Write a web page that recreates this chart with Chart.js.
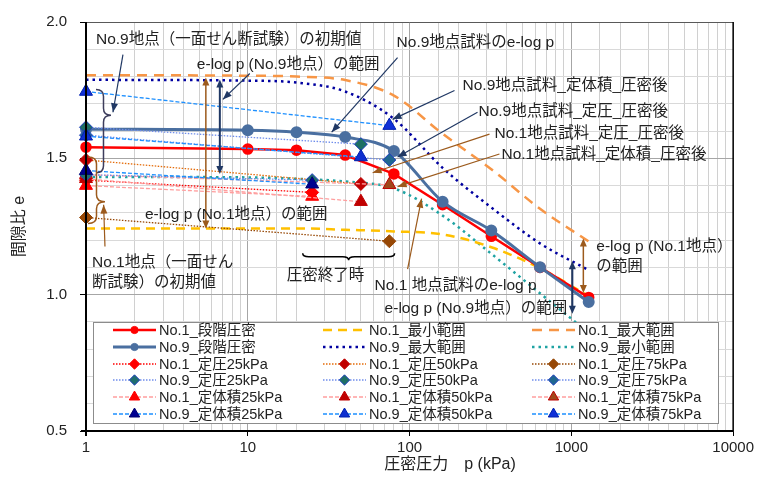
<!DOCTYPE html>
<html lang="ja">
<head>
<meta charset="utf-8">
<script src="https://cdn.jsdelivr.net/npm/chart.js@4.4.0/dist/chart.umd.min.js"></script>
<style>
  body { margin: 0; background: #fff; }
  #wrap { width: 757px; height: 478px; position: relative; }
</style>
</head>
<body>
<div id="wrap"><canvas id="chart"></canvas></div>
<script>
const FONT = '"Liberation Sans", Arial, "Noto Sans CJK JP", sans-serif';

// --- Data ---
const steps = [1, 10, 20, 40, 80, 160, 320, 640, 1280];       // kPa
const no1Step = [1.541, 1.534, 1.530, 1.512, 1.443, 1.330, 1.214, 1.100, 0.990];
const no9Step = [1.607, 1.603, 1.596, 1.578, 1.527, 1.341, 1.235, 1.101, 0.973];
const no1Min  = [1.243, 1.243, 1.243, 1.238, 1.232, 1.221, 1.174, 1.097, 0.995];
const no1Max  = [1.805, 1.803, 1.800, 1.787, 1.730, 1.590, 1.460, 1.315, 1.195];
const no9Max  = [1.788, 1.785, 1.778, 1.745, 1.645, 1.465, 1.320, 1.188, 1.090];
const no9Min  = [1.432, 1.430, 1.425, 1.415, 1.390, 1.290, 1.150, 1.005, 0.860];

// initial value (p=1) -> end of consolidation
const p25 = [1, 25], p50 = [1, 50], p75 = [1, 75];
const no1CP25 = [1.420, 1.375], no1CP50 = [1.494, 1.406], no1CP75 = [1.283, 1.196];
const no9CP25 = [1.440, 1.420], no9CP50 = [1.614, 1.552], no9CP75 = [1.585, 1.494];
const no1CV25 = [1.400, 1.360], no1CV50 = [1.425, 1.341], no1CV75 = [1.440, 1.403];
const no9CV25 = [1.455, 1.405], no9CV50 = [1.581, 1.505], no9CV75 = [1.745, 1.620];

const xTickLabels = [1, 10, 100, 1000, 10000];
const yTickLabels = [0.5, 1.0, 1.5, 2.0];

function ds(label, xs, ys, o) {
    return Object.assign({
        label: label,
        data: xs.map((x, i) => ({ x: x, y: ys[i] })),
        clip: false, fill: false, tension: 0,
        pointRadius: 0, pointHoverRadius: 0, borderWidth: 1.3
    }, o);
}
function cp(fill, border, line) {           // constant pressure: diamond + dotted
    return { borderColor: line, borderDash: [1.5, 1.5], pointStyle: 'rectRot', pointRadius: 6.5,
             pointBackgroundColor: fill, pointBorderColor: border, pointBorderWidth: 1 };
}
function cv(fill, border, line) {           // constant volume: triangle + dashed
    return { borderColor: line, borderDash: [4, 2], pointStyle: 'triangle', pointRadius: 7.5,
             pointBackgroundColor: fill, pointBorderColor: border, pointBorderWidth: 1 };
}

const datasets = [
    ds('No.9_定体積75kPa', p75, no9CV75, cv('#1030D8', '#0020B0', '#1E90FF')),
    ds('No.9_定体積50kPa', p50, no9CV50, cv('#1030D0', '#0020B0', '#1E90FF')),
    ds('No.9_定体積25kPa', p25, no9CV25, cv('#000090', '#000070', '#1E90FF')),
    ds('No.9_定圧75kPa', p75, no9CP75, cp('#1F6790', '#2040C0', '#6F8DEB')),
    ds('No.9_定圧50kPa', p50, no9CP50, cp('#1E7064', '#2040C0', '#6F8DEB')),
    ds('No.9_定圧25kPa', p25, no9CP25, cp('#1E6E6E', '#2040C0', '#6F8DEB')),
    ds('No.1_定体積75kPa', p75, no1CV75, cv('#A0471A', '#C00000', '#FF9E9E')),
    ds('No.1_定体積50kPa', p50, no1CV50, cv('#C00000', '#C00000', '#FF9E9E')),
    ds('No.1_定体積25kPa', p25, no1CV25, cv('#FF0000', '#FF0000', '#FF9E9E')),
    ds('No.1_定圧75kPa', p75, no1CP75, cp('#974806', '#974806', '#974806')),
    ds('No.1_定圧50kPa', p50, no1CP50, cp('#C00000', '#C00000', '#E46C0A')),
    ds('No.1_定圧25kPa', p25, no1CP25, cp('#FF0000', '#FF0000', '#FF0000')),
    ds('No.9_段階圧密', steps, no9Step, { borderColor: '#4A6FA0', borderWidth: 3,
        cubicInterpolationMode: 'monotone', pointStyle: 'circle', pointRadius: 4.5,
        pointBackgroundColor: '#4A6FA0', pointBorderColor: '#4A6FA0' }),
    ds('No.1_段階圧密', steps, no1Step, { borderColor: '#FF0000', borderWidth: 2.5,
        pointStyle: 'circle', pointRadius: 4.5,
        pointBackgroundColor: '#FF0000', pointBorderColor: '#FF0000' }),
    ds('No.1_最小範囲', steps, no1Min, { borderColor: '#FFC000', borderWidth: 2.5,
        borderDash: [9, 6], cubicInterpolationMode: 'monotone' }),
    ds('No.9_最大範囲', steps, no9Max, { borderColor: '#0000A0', borderWidth: 2.5,
        borderDash: [2.5, 4], cubicInterpolationMode: 'monotone' }),
    ds('No.1_最大範囲', steps, no1Max, { borderColor: '#F79646', borderWidth: 2.5,
        borderDash: [10, 7], cubicInterpolationMode: 'monotone' }),
    ds('No.9_最小範囲', steps, no9Min, { borderColor: '#1FA3A3', borderWidth: 2.5,
        borderDash: [2.5, 4], cubicInterpolationMode: 'monotone' })
];

const legendOrder = [
    'No.1_段階圧密', 'No.1_最小範囲', 'No.1_最大範囲',
    'No.9_段階圧密', 'No.9_最大範囲', 'No.9_最小範囲',
    'No.1_定圧25kPa', 'No.1_定圧50kPa', 'No.1_定圧75kPa',
    'No.9_定圧25kPa', 'No.9_定圧50kPa', 'No.9_定圧75kPa',
    'No.1_定体積25kPa', 'No.1_定体積50kPa', 'No.1_定体積75kPa',
    'No.9_定体積25kPa', 'No.9_定体積50kPa', 'No.9_定体積75kPa'
];

// --- Annotations, in data coordinates (p, e) ---
const notes = [
    ['No.9地点（一面せん断試験）の初期値', 1.153, 1.934],
    ['e-log p (No.9地点）の範囲', 4.845, 1.843],
    ['No.9地点試料のe-log p', 83.1, 1.924],
    ['No.9地点試料_定体積_圧密後', 212.5, 1.767],
    ['No.9地点試料_定圧_圧密後', 266.6, 1.672],
    ['No.1地点試料_定圧_圧密後', 334.7, 1.589],
    ['No.1地点試料_定体積_圧密後', 369.8, 1.512],
    ['e-log p (No.1地点）の範囲', 2.313, 1.294],
    ['No.1地点（一面せん', 1.089, 1.119],
    ['断試験）の初期値', 1.089, 1.043],
    ['圧密終了時', 17.41, 1.068],
    ['No.1 地点試料のe-log p', 60.8, 1.032],
    ['e-log p (No.9地点）の範囲', 70.1, 0.948],
    ['e-log p (No.1地点）', 1427, 1.177],
    ['の範囲', 1427, 1.101]
];
const NAVY = '#203864', BROWN = '#9C5A1C';
const arrows = [   // tail p, tail e, head p, head e, colour
    [1.692, 1.880, 1.468, 1.669, NAVY],
    [10.29, 1.811, 7.01, 1.716, NAVY],
    [84.3, 1.869, 33.0, 1.596, NAVY],
    [189.6, 1.749, 78.5, 1.643, NAVY],
    [263, 1.669, 84.3, 1.505, NAVY],
    [311.8, 1.589, 59.1, 1.447, BROWN],
    [359.4, 1.516, 84.3, 1.396, BROWN],
    [1.31, 1.177, 1.285, 1.33, BROWN],
    [97.2, 1.094, 118.6, 1.352, BROWN]
];
const ranges = [   // p, e top, e bottom, colour, width
    [5.505, 1.796, 1.243, BROWN, 1.5],
    [6.718, 1.789, 1.443, NAVY, 2],
    [1186, 1.206, 1.006, BROWN, 1.5],
    [1014, 1.123, 0.930, NAVY, 2]
];

function isDecade(v) { const l = Math.log10(v); return Math.abs(l - Math.round(l)) < 1e-9; }
function isHalf(v) { return Math.abs(v * 2 - Math.round(v * 2)) < 1e-6; }

function head(ctx, x1, y1, x2, y2, len, wid) {
    const a = Math.atan2(y2 - y1, x2 - x1);
    ctx.beginPath();
    ctx.moveTo(x2, y2);
    ctx.lineTo(x2 - len * Math.cos(a) + wid * Math.sin(a), y2 - len * Math.sin(a) - wid * Math.cos(a));
    ctx.lineTo(x2 - len * Math.cos(a) - wid * Math.sin(a), y2 - len * Math.sin(a) + wid * Math.cos(a));
    ctx.closePath();
    ctx.fill();
}

function vBrace(ctx, x0, yTop, yBot, xTip, yTip) {
    const xm = (x0 + xTip) / 2, r = 7;
    ctx.beginPath();
    ctx.moveTo(x0, yTop);
    ctx.quadraticCurveTo(xm, yTop, xm, yTop + r);
    ctx.lineTo(xm, yTip - r);
    ctx.quadraticCurveTo(xm, yTip, xTip, yTip);
    ctx.quadraticCurveTo(xm, yTip, xm, yTip + r);
    ctx.lineTo(xm, yBot - r);
    ctx.quadraticCurveTo(xm, yBot, x0, yBot);
    ctx.stroke();
}
function hBrace(ctx, xL, xR, y0, xTip, yTip) {
    const ym = (y0 + yTip) / 2, r = 6;
    ctx.beginPath();
    ctx.moveTo(xL, y0);
    ctx.quadraticCurveTo(xL, ym, xL + r, ym);
    ctx.lineTo(xTip - r, ym);
    ctx.quadraticCurveTo(xTip, ym, xTip, yTip);
    ctx.quadraticCurveTo(xTip, ym, xTip + r, ym);
    ctx.lineTo(xR - r, ym);
    ctx.quadraticCurveTo(xR, ym, xR, y0);
    ctx.stroke();
}

function marker(ctx, style, x, y, r) {
    ctx.beginPath();
    if (style === 'circle') {
        ctx.arc(x, y, r, 0, Math.PI * 2);
    } else if (style === 'rectRot') {
        ctx.moveTo(x, y - r); ctx.lineTo(x + r, y); ctx.lineTo(x, y + r); ctx.lineTo(x - r, y);
        ctx.closePath();
    } else {
        const h = r * 1.5, w = r * Math.sqrt(3) / 2;
        ctx.moveTo(x, y - r); ctx.lineTo(x + w, y + h - r); ctx.lineTo(x - w, y + h - r);
        ctx.closePath();
    }
    ctx.fill();
    ctx.stroke();
}

const overlay = {
    id: 'overlay',
    afterDatasetsDraw(chart) {
        const { ctx, chartArea: a, scales: { x, y } } = chart;
        ctx.save();
        // frame
        ctx.strokeStyle = '#595959'; ctx.lineWidth = 1;
        ctx.beginPath(); ctx.moveTo(a.left, a.top + 0.5); ctx.lineTo(a.right, a.top + 0.5); ctx.stroke();
        ctx.strokeStyle = '#000'; ctx.lineWidth = 1.5;
        ctx.beginPath(); ctx.moveTo(a.right, a.top); ctx.lineTo(a.right, a.bottom); ctx.stroke();
        ctx.lineWidth = 2;
        ctx.beginPath(); ctx.moveTo(a.left, a.top); ctx.lineTo(a.left, a.bottom + 5);
        ctx.moveTo(a.left - 5, a.bottom); ctx.lineTo(a.right, a.bottom); ctx.stroke();

        // x axis title, sits right of centre in the reference
        ctx.fillStyle = '#222'; ctx.font = '16px ' + FONT;
        ctx.textAlign = 'center'; ctx.textBaseline = 'middle';
        ctx.fillText('圧密圧力　p (kPa)', 450, 465);

        // range double arrows
        ranges.forEach(r => {
            const px = x.getPixelForValue(r[0]), y1 = y.getPixelForValue(r[1]), y2 = y.getPixelForValue(r[2]);
            ctx.strokeStyle = r[3]; ctx.fillStyle = r[3]; ctx.lineWidth = r[4];
            ctx.beginPath(); ctx.moveTo(px, y1 + 6); ctx.lineTo(px, y2 - 6); ctx.stroke();
            head(ctx, px, y2, px, y1, 8, 3.5);
            head(ctx, px, y1, px, y2, 8, 3.5);
        });
        // pointer arrows
        arrows.forEach(r => {
            const x1 = x.getPixelForValue(r[0]), y1 = y.getPixelForValue(r[1]);
            const x2 = x.getPixelForValue(r[2]), y2 = y.getPixelForValue(r[3]);
            ctx.strokeStyle = r[4]; ctx.fillStyle = r[4]; ctx.lineWidth = 1.2;
            ctx.beginPath(); ctx.moveTo(x1, y1); ctx.lineTo(x2, y2); ctx.stroke();
            head(ctx, x1, y1, x2, y2, 9, 3.5);
        });
        // braces
        ctx.lineWidth = 1.5;
        ctx.strokeStyle = '#3D3D5C';
        vBrace(ctx, x.getPixelForValue(1.153), y.getPixelForValue(1.752), y.getPixelForValue(1.447),
               x.getPixelForValue(1.427), y.getPixelForValue(1.658));
        ctx.strokeStyle = BROWN;
        vBrace(ctx, x.getPixelForValue(1.029), y.getPixelForValue(1.505), y.getPixelForValue(1.261),
               x.getPixelForValue(1.31), y.getPixelForValue(1.341));
        ctx.strokeStyle = '#000';
        hBrace(ctx, x.getPixelForValue(21.85), x.getPixelForValue(80.8), y.getPixelForValue(1.152),
               x.getPixelForValue(42.0), y.getPixelForValue(1.126));

        // texts
        ctx.font = '15.5px ' + FONT;
        ctx.fillStyle = '#222';
        ctx.textAlign = 'left'; ctx.textBaseline = 'middle';
        notes.forEach(n => ctx.fillText(n[0], x.getPixelForValue(n[1]), y.getPixelForValue(n[2])));

        // legend
        const L = 93, T = 322, W = 625, H = 101;
        ctx.fillStyle = '#fff'; ctx.fillRect(L, T, W, H);
        ctx.strokeStyle = '#8c8c8c'; ctx.lineWidth = 1;
        ctx.strokeRect(L + 0.5, T + 0.5, W, H);
        ctx.font = '14.5px ' + FONT;
        const colX = [113, 323, 532], rowY = [330, 347, 364, 380, 397, 414];
        legendOrder.forEach((name, i) => {
            const d = datasets.find(s => s.label === name);
            const cx = colX[i % 3], cy = rowY[Math.floor(i / 3)];
            ctx.strokeStyle = d.borderColor; ctx.lineWidth = d.borderWidth;
            ctx.setLineDash(d.borderDash || []);
            ctx.beginPath(); ctx.moveTo(cx, cy); ctx.lineTo(cx + 43, cy); ctx.stroke();
            ctx.setLineDash([]);
            if (d.pointRadius > 0) {
                ctx.fillStyle = d.pointBackgroundColor; ctx.strokeStyle = d.pointBorderColor;
                ctx.lineWidth = 1;
                marker(ctx, d.pointStyle, cx + 21.5, cy, d.pointRadius * 0.8);
            }
            ctx.fillStyle = '#222';
            ctx.fillText(name, cx + 46, cy + 1);
        });
        ctx.restore();
    }
};

new Chart(document.getElementById('chart'), {
    type: 'line',
    data: { datasets: datasets },
    plugins: [overlay],
    options: {
        responsive: true,
        maintainAspectRatio: false,
        animation: false,
        events: [],
        layout: { padding: { top: 19, right: 23, left: 0, bottom: 0 } },
        plugins: { legend: { display: false }, tooltip: { enabled: false } },
        scales: {
            x: {
                type: 'logarithmic', min: 1, max: 10000,
                border: { display: false },
                grid: {
                    color: c => isDecade(c.tick.value) ? '#a6a6a6' : '#d0d0d0',
                    tickLength: 5,
                    tickColor: c => isDecade(c.tick.value) ? '#000' : 'rgba(0,0,0,0)'
                },
                ticks: {
                    autoSkip: false, maxRotation: 0, padding: 3, color: '#222',
                    font: { family: FONT, size: 15 },
                    callback: v => xTickLabels.includes(v) ? String(v) : ''
                },
                afterFit: s => { s.height = 47; }
            },
            y: {
                min: 0.5, max: 2.0,
                border: { display: false },
                grid: {
                    color: c => isHalf(c.tick.value) ? '#a6a6a6' : '#d9d9d9',
                    tickLength: 6,
                    tickColor: c => isHalf(c.tick.value) ? '#000' : 'rgba(0,0,0,0)'
                },
                ticks: {
                    stepSize: 0.1, autoSkip: false, padding: 13, color: '#222',
                    font: { family: FONT, size: 15 },
                    callback: v => yTickLabels.some(t => Math.abs(t - v) < 1e-6) ? v.toFixed(1) : ''
                },
                title: { display: true, text: '間隙比 e', color: '#222',
                         font: { family: FONT, size: 16 }, padding: { top: 10, bottom: 0 } },
                afterFit: s => { s.width = 86; }
            }
        }
    }
});
</script>
</body>
</html>
